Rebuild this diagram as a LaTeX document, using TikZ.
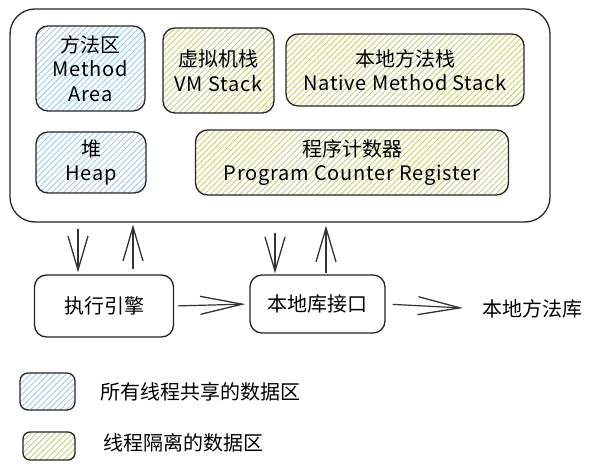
\documentclass[tikz,border=0pt]{standalone}
\usepackage{fontspec}
\setmainfont{Noto Sans CJK SC}
\newfontfamily\enfont[LetterSpace=4]{Noto Sans CJK SC}
\usetikzlibrary{arrows.meta,patterns.meta}
\definecolor{hblue}{RGB}{150,205,240}
\definecolor{hyellow}{RGB}{205,205,110}
\tikzset{
  box/.style={draw=black!85,line width=1.3pt,rounded corners=12pt,align=center,
    font=\fontsize{20}{24.5}\selectfont,inner sep=0pt},
  shared/.style={box,pattern={Lines[angle=45,distance=4.2pt,line width=0.9pt]},pattern color=hblue},
  isolated/.style={box,pattern={Lines[angle=45,distance=4.2pt,line width=0.9pt]},pattern color=hyellow},
  plain/.style={box,fill=white},
  arr/.style={-{Straight Barb[length=34pt,width=20pt,line width=1.3pt]},line width=1.2pt,black!80},
  harr/.style={-{Straight Barb[length=42pt,width=18pt,line width=1.3pt]},line width=1.2pt,black!80},
  lbl/.style={font=\fontsize{20}{24}\selectfont,inner sep=0pt}
}
\begin{document}
\begin{tikzpicture}[x=1pt,y=-1pt]
\useasboundingbox (0,0) rectangle (593,470);
\fill[white] (0,0) rectangle (593,470);
% outer JVM box
\node[box,rounded corners=25pt,minimum width=540,minimum height=213] (outer) at (280,115.5) {};
% memory areas
\node[shared,minimum width=109,minimum height=85] (method) at (90.5,68.5) {方法区\\{\enfont Method}\\{\enfont Area}};
\node[isolated,minimum width=111,minimum height=85] (vm) at (218.5,70.5) {虚拟机栈\\{\enfont VM Stack}};
\node[isolated,minimum width=238,minimum height=72] (native) at (405,70) {本地方法栈\\{\enfont Native Method Stack}};
\node[shared,minimum width=110,minimum height=61] (heap) at (91,162.5) {堆\\{\enfont Heap}};
\node[isolated,minimum width=313,minimum height=65] (pc) at (352,162.5) {程序计数器\\{\enfont Program Counter Register}};
% lower boxes
\node[plain,minimum width=139,minimum height=62] (exec) at (104,306) {执行引擎};
\node[plain,minimum width=135,minimum height=58] (nlib) at (317.5,304) {本地库接口};
\node[lbl,anchor=west] (lib) at (482,309) {本地方法库};
% arrow columns
\coordinate (c1) at (78,0);
\coordinate (c2) at (133,0);
\coordinate (c3) at (275,0);
\coordinate (c4) at (326,0);
\draw[arr,shorten <=6pt,shorten >=2pt] (outer.south -| c1) -- (exec.north -| c1);
\draw[arr,shorten <=5pt,shorten >=2pt] (exec.north -| c2) -- (outer.south -| c2);
\draw[arr,shorten <=10pt,shorten >=1pt] (outer.south -| c3) -- (nlib.north -| c3);
\draw[arr,shorten <=1pt,shorten >=3pt] (nlib.north -| c4) -- (outer.south -| c4);
\draw[harr,shorten <=4pt,shorten >=4pt] (exec.east) -- (nlib.west);
\draw[harr,shorten <=7pt,shorten >=19pt] (nlib.east) -- (lib.west);
% legend
\node[shared,minimum width=55,minimum height=37,rounded corners=8pt] (leg1) at (47.5,391.5) {};
\node[isolated,minimum width=52,minimum height=28,rounded corners=7pt] (leg2) at (49,446) {};
\node[lbl,anchor=west] (t1) at (100,392) {所有线程共享的数据区};
\node[lbl,anchor=west] (t2) at (103,443) {线程隔离的数据区};
\end{tikzpicture}
\end{document}
